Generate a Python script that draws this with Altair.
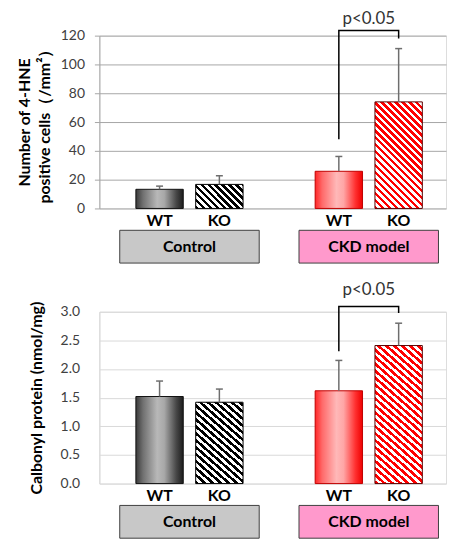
import altair as alt
import pandas as pd

# ---------------- data ----------------
groups = ["Control", "Control", "CKD model", "CKD model"]
genotypes = ["WT", "KO", "WT", "KO"]

hne_mean = [13.3, 16.7, 25.8, 74.0]
hne_sd = [2.2, 6.0, 10.3, 37.0]

carb_mean = [1.52, 1.42, 1.62, 2.41]
carb_sd = [0.27, 0.23, 0.53, 0.39]

box_groups = ["Control", "CKD model"]
box_fill = ["#c8c8c8", "#ff99cc"]

hne_ticks = [0, 20, 40, 60, 80, 100, 120]
carb_ticks = [0.0, 0.5, 1.0, 1.5, 2.0, 2.5, 3.0]

bracket_geno = ["WT", "WT", "KO", "KO"]
hne_bracket = [48, 123.5, 123.5, 118]
carb_bracket = [2.31, 3.09, 3.09, 2.98]
hne_p_y = 131.2
carb_p_y = 3.38
p_text = "p<0.05"

hne_title = ["Number of 4-HNE", "positive cells（/mm²）"]
carb_title = "Calbonyl protein (nmol/mg)"

# ---------------- styles ----------------
FONT = "Lato"
W = 349


def hatch(w, h, c1, c2, period=7.0):
    L = w + h
    stops = []
    k = 0
    while k * period < L:
        a = k * period / L
        b = min((k + 0.5) * period / L, 1.0)
        c = min((k + 1) * period / L, 1.0)
        stops += [
            {"offset": a, "color": c1},
            {"offset": b, "color": c1},
            {"offset": b, "color": c2},
            {"offset": c, "color": c2},
        ]
        k += 1
    s = w * (w + h) / (w * w + h * h)
    return {"gradient": "linear", "x1": 0, "y1": 1, "x2": s, "y2": 1 - s * h / w, "stops": stops}


def shade(pairs):
    return {"gradient": "linear", "x1": 0, "y1": 0, "x2": 1, "y2": 0,
            "stops": [{"offset": o, "color": c} for o, c in pairs]}


gray_wt = shade([(0, "#3a3a3a"), (0.15, "#707070"), (0.45, "#b8b8b8"), (0.6, "#a8a8a8"),
                 (0.85, "#484848"), (1, "#1c1c1c")])
red_wt = shade([(0, "#ff2626"), (0.15, "#ff6a6a"), (0.45, "#ffb8b8"), (0.6, "#ffa6a6"),
                (0.85, "#ff3030"), (1, "#ee0000")])


def panel(means, sds, H, ymax, ticks, fmt, title, title_x, grid_color,
          off_pi, off_po, bar_w, br_y, p_y, tick_size, label_pad):
    df = pd.DataFrame({"group": groups, "geno": genotypes, "mean": means,
                       "top": [m + s for m, s in zip(means, sds)]})
    xs = alt.Scale(domain=box_groups, paddingInner=0.222, paddingOuter=0.0778, align=0.73)
    xos = alt.Scale(domain=["WT", "KO"], paddingInner=off_pi, paddingOuter=off_po)
    ys = alt.Scale(domain=[0, ymax], nice=False, zero=True)
    axis_kw = dict(values=ticks, format=fmt, grid=True, gridColor=grid_color,
                   domainColor=grid_color, labelPadding=label_pad,
                   labelFont=FONT, labelFontSize=14, labelColor="#404040",
                   titleFont=FONT, titleFontSize=16, titleFontWeight="bold", titleColor="#000000",
                   titleX=title_x, titleY=H / 2, titleLineHeight=20, titleAngle=270,
                   titleAlign="center", titleBaseline="bottom")
    if tick_size > 0:
        axis_kw.update(ticks=True, tickSize=tick_size, tickColor=grid_color)
    else:
        axis_kw.update(ticks=False)
    yaxis = alt.Axis(**axis_kw)
    X = alt.X("group:N", scale=xs, axis=None)
    XO = alt.XOffset("geno:N", scale=xos)

    def Y(f):
        return alt.Y(f, type="quantitative", scale=ys, axis=yaxis, title=title)

    base = alt.Chart(df)
    layers = []

    boxes = alt.Chart(pd.DataFrame({"group": box_groups})).mark_rect(
        stroke="#3f3f3f", strokeWidth=1).encode(
        x=X, y=alt.value(H + 22), y2=alt.value(H + 55),
        fill=alt.Fill("group:N", scale=alt.Scale(domain=box_groups, range=box_fill), legend=None))
    box_text = alt.Chart(pd.DataFrame({"group": box_groups})).mark_text(
        font=FONT, fontSize=16, fontWeight="bold", color="#000000").encode(
        x=X, y=alt.value(H + 38.5), text="group:N")
    layers += [boxes, box_text]

    h_of = lambda v: v / ymax * H
    styles = {
        ("Control", "WT"): (gray_wt, "#111111"),
        ("Control", "KO"): (None, "#000000"),
        ("CKD model", "WT"): (red_wt, "#c00000"),
        ("CKD model", "KO"): (None, "#5a0000"),
    }
    for g, ge, m in zip(groups, genotypes, means):
        fill, stroke = styles[(g, ge)]
        if fill is None:
            c1 = "#000000" if g == "Control" else "#ff0000"
            fill = hatch(bar_w, h_of(m), c1, "#ffffff")
        layers.append(
            base.transform_filter(f"datum.group == '{g}' && datum.geno == '{ge}'")
            .mark_bar(fill=fill, stroke=stroke, strokeWidth=1)
            .encode(x=X, xOffset=XO, y=Y("mean"))
        )

    err = base.mark_rule(color="#6e6e6e", strokeWidth=1.5).encode(
        x=X, xOffset=XO, y=Y("mean"), y2="top")
    cap = base.mark_point(shape="M-1,0L1,0", size=49, filled=False, color="#6e6e6e",
                          strokeWidth=1.5, opacity=1).encode(x=X, xOffset=XO, y=Y("top"))
    labels = base.mark_text(font=FONT, fontSize=16, fontWeight="bold", color="#000000").encode(
        x=X, xOffset=XO, y=alt.value(H + 13), text="geno:N")
    bdf = pd.DataFrame({"group": ["CKD model"] * 4, "geno": bracket_geno, "y": br_y,
                        "i": list(range(4))})
    bracket = alt.Chart(bdf).mark_line(color="#000000", strokeWidth=1.5).encode(
        x=X, xOffset=XO, y=Y("y"), order="i:Q")
    ptxt = alt.Chart(pd.DataFrame({"group": ["CKD model"], "py": [p_y], "t": [p_text]})).mark_text(
        font=FONT, fontSize=17, color="#333333").encode(x=X, y=Y("py"), text="t:N")
    layers += [err, cap, labels, bracket, ptxt]
    return alt.layer(*layers).properties(width=W, height=H)


top = panel(hne_mean, hne_sd, 174, 120, hne_ticks, "d", hne_title, -67, "#a6a6a6",
            0.208, 0.27, 47.7, hne_bracket, hne_p_y, 5, 10)
bottom = panel(carb_mean, carb_sd, 173, 3, carb_ticks, ".1f", carb_title, -55, "#d9d9d9",
               0.186, 0.46, 41.8, carb_bracket, carb_p_y, 0, 20)

chart = (
    alt.vconcat(top, bottom, spacing=104, bounds="flush")
    .properties(padding={"left": 8, "top": 0, "right": 0, "bottom": 0})
    .configure_view(stroke=None)
    .configure(font=FONT)
)

chart.save("out.html", embed_options={"renderer": "svg", "actions": False})
